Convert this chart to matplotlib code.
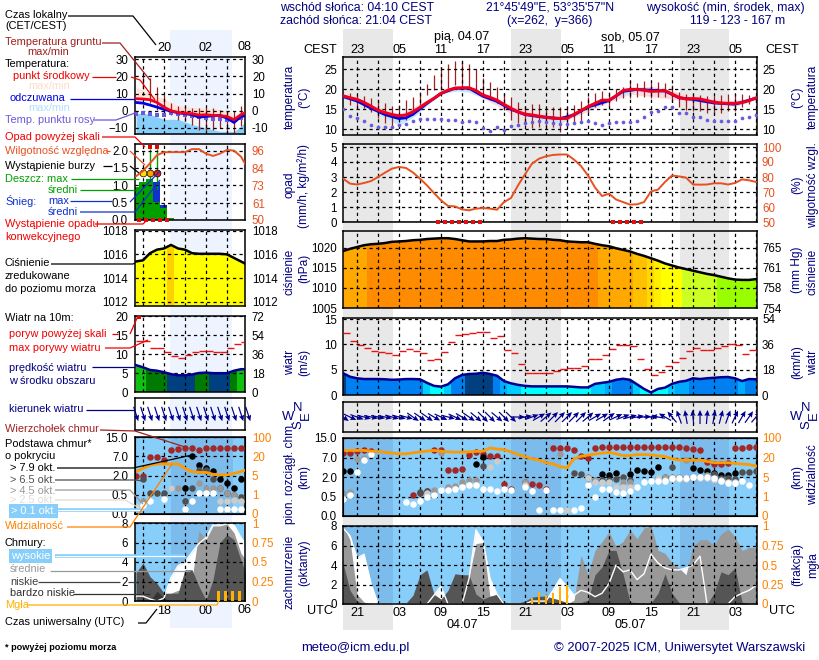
import numpy as np
import matplotlib
matplotlib.use("Agg")
import matplotlib.pyplot as plt
from matplotlib.ticker import FixedLocator, NullLocator

plt.rcParams['font.family'] = ['Liberation Sans', 'DejaVu Sans']

# ---- main panels, hours since 21:00 local on 03.07 ----
hours = list(range(60))
temp = [18.4, 17.9, 17.5, 16.75, 15.8, 14.8, 14.2, 13.7, 13.4, 13.6, 14.4, 15.5, 16.7, 17.75, 19, 19.8, 20.3, 20.4, 20.4, 19.7,
        18.6, 18, 17.3, 16.25, 15.25, 14.4, 13.8, 13.6, 13.3, 13, 12.8, 12.75, 12.75, 13.75, 14.7, 15.7, 16.5, 17.3, 17.3, 18.4,
        19.7, 20, 20, 19.8, 19.5, 19.6, 19.7, 18.8, 18, 17.6, 17.7, 17.6, 17.2, 16.8, 16.6, 16.5, 16.5, 16.7, 17.2, 17.9]
dew = [15, 13.4, 12.75, 12.2, 11.1, 10.7, 10.5, 10.7, 11.1, 11.25, 12, 12.7, 12.7, 12.6, 12.6, 12.3, 12.4, 11.9, 12.1, 11.75,
       10.4, 9.7, 10.7, 9.8, 10.8, 11.1, 11.7, 11.9, 12, 11.75, 11.5, 11.4, 11.4, 11.5, 11.9, 12.2, 11.5, 11.1, 11.5, 11.75,
       11.9, 11.9, 12, 13.2, 14.4, 14.6, 15.5, 15.5, 14.2, 14, 13, 13, 12.3, 12.2, 12.1, 12.1, 12.2, 12.75, 13, 13.6]
ground_hours = list(range(1, 60))
ground_max = [19.2, 18.6, 18.3, 17.8, 17.3, 16.5, 15.8, 16, 17.3, 18, 19.4, 21.3, 23.6, 25.7, 26.3, 27, 27, 26.3, 25, 22.8,
              21.9, 20.5, 19, 18, 16.9, 15.8, 16.3, 16.3, 15.7, 15.7, 15.7, 15.7, 16.2, 17, 18, 19, 19.6, 19.4, 20, 20.6,
              22, 21.7, 22, 21.7, 21.9, 21.6, 21, 19.3, 18.9, 18.9, 18.5, 18.3, 18.3, 18.5, 18.9, 18.9, 18.9, 18.5, 18.1]
ground_min = [16.1, 15.7, 15.3, 14.4, 12.75, 11.5, 10.3, 12, 12.3, 13.6, 16, 18.6, 19.8, 19.8, 20.3, 21, 20.5, 20.3, 19.4, 18.2,
              17.3, 16.5, 14.8, 12.3, 11.5, 11.1, 10.3, 10.7, 10.7, 10.6, 9.4, 11, 11.6, 12.2, 14, 15.5, 16, 15.8, 17.2, 17.9,
              17.9, 18.2, 18, 17.9, 18.2, 18.2, 17.1, 15.5, 14.8, 14.5, 14.5, 14.2, 13.9, 14.2, 14.5, 14.5, 15.6, 16.4, 16.9]
feels_hours = [0, 2, 4, 6, 8, 9, 10, 12, 14, 16, 18, 20, 22, 24, 26, 28, 31, 33, 35, 38, 40, 42, 46, 48, 50, 53, 56, 59]
feels = [18.2, 17.1, 15.3, 13.7, 12.7, 12.9, 13.8, 16.5, 19, 20.3, 20.3, 18.3, 17, 15, 13.7, 13.2, 12.7, 13.6, 15.6, 17.2, 19.5, 20, 19.6, 17.9, 17.5, 16.6, 16.3, 17.8]
band_hours = [0, 8, 14, 17, 20, 24, 28, 31, 34, 38, 41, 44, 47, 50, 56, 59]
temp_top = [18.7, 13.7, 19.2, 20.8, 19, 16, 14.2, 13.2, 15, 17.6, 20.4, 20.8, 19.6, 18.2, 17.2, 18.2]
temp_low = [18, 13, 18.8, 20, 17.8, 14, 12.7, 11.5, 13.8, 16.8, 18.8, 18.2, 17.6, 16.6, 15.8, 17.5]
feels_low_hours = [0, 3, 5, 8, 10, 12, 14, 17, 20, 24, 28, 31, 35, 38, 41, 46, 50, 56, 59]
feels_low = [17.8, 16, 14, 11, 13, 16, 18.8, 20, 18, 14.8, 12.6, 11.5, 15, 17, 19.5, 19, 17, 15.8, 17.5]

humidity = [78.9, 75.6, 75, 76, 77.3, 80, 82.9, 85.6, 86.7, 86, 83, 78.9, 74.4, 69.3, 64.4, 60.7, 60.4, 58.4, 57.8, 58.9,
            59.3, 58.9, 58.2, 63.3, 66, 74.4, 81.8, 88.9, 92.2, 93.8, 94.7, 95, 95, 91.6, 87.3, 81, 73, 67.3, 68.9, 65,
            63.3, 61.6, 61.8, 63.3, 70.4, 71.6, 76.7, 81, 80.4, 79.6, 75, 74.9, 75, 75.8, 75.8, 75, 76, 78.4, 77.8, 76.7]
convective_hours = [13.5, 14.5, 15.5, 16.5, 17.5, 18.5, 19.5, 38.5, 39.5, 40.5, 41.5, 42.5]

pressure = [1019.2, 1019.75, 1020.2, 1020.65, 1020.9, 1021, 1021.2, 1021.5, 1021.6, 1021.7, 1021.9, 1022, 1022.2, 1022.3, 1022.4, 1022.4, 1022.2, 1021.9, 1021.6, 1021.6,
            1021.6, 1021.7, 1021.7, 1022, 1022.1, 1022.3, 1022.4, 1022.3, 1022.2, 1022.2, 1022, 1021.9, 1021.6, 1021.5, 1021.4, 1021.4, 1021, 1020.65, 1020.4, 1019.9,
            1019.5, 1019.1, 1018.5, 1018, 1017.4, 1016.8, 1016.1, 1015.6, 1015.1, 1014.7, 1014.3, 1013.9, 1013.5, 1013.2, 1012.8, 1012.4, 1012.1, 1012, 1012, 1012.2]
pressure_levels = [1013, 1015, 1016.5, 1017, 1018, 1019, 1020.8]
pressure_palette = ['#99FF00', '#CCFF22', '#FFFF00', '#FFEE00', '#FFD800', '#FFC000', '#FFA800', '#FF8C00']
mmhg_labels = ['754', '758', '761', '765']

wind = [4.3, 3.6, 3.3, 3.15, 3.15, 3.15, 3.1, 3, 3.05, 3.15, 3.15, 3.1, 2.4, 1.8, 1.65, 2.1, 3.3, 3.95, 4.15, 4.2,
        4.4, 4.15, 3.8, 2.75, 2.3, 2, 1.8, 1.7, 1.7, 1.7, 1.7, 1.7, 1.7, 1.6, 1.5, 1.5, 2.2, 2.4, 2.6, 3,
        3.2, 3, 2.1, 1.2, 0.5, 1.2, 1.45, 2.2, 2.6, 2.8, 3.3, 3.15, 3.3, 3.4, 3.5, 3.55, 3.3, 2.75, 3.15, 3.1]
wind_levels = [2, 2.6, 3, 4]
wind_palette = ['#00FFFF', '#00CCFF', '#00AAFF', '#0080F0', '#004080']
gust_hours = list(range(59))
gust = [12.2, 10.6, 9.9, 9.2, 8.75, 8.4, 8.3, 7.8, 8.6, 9, 8.75, 8.2, 6.85, 7.2, 8.4, 10.4, 11.8, 12, 12.2, 12.4,
        12.4, 11.3, 11.6, 8.8, 8.3, 6.05, 4.3, 4.3, 4.3, 4.3, 4.8, 5.1, 5.3, 5.3, 5.7, 7.2, 7.2, 7.8, 9, 9.8,
        9.8, 9.6, 7.2, 5.1, 3.9, 4.5, 5.7, 6.6, 7.4, 8.6, 9.2, 8.8, 8.8, 9.2, 9.6, 10, 9.8, 8, 8.8]
wind_heading = [-35, -25, -20, -15, -12, -12, -12, -15, -15, -15, -35, -35, -35, -30, -25, -15, -25, -30, -35, -40,
                -45, -45, -40, -45, -45, 0, 10, 20, 30, 40, 45, 45, 45, 45, 45, 40, 30, 30, 35, 25,
                20, 15, 10, 5, 0, 170, 150, 130, 110, 100, 95, 90, 85, 80, 75, 70, 65, 60, 55, 50]

# cloud base in km, one list of hours and heights per layer
top_h = [0, 1, 2, 3, 4, 10, 11, 12, 13, 14, 15, 16, 17, 18, 19, 20, 21, 22, 23, 24, 26, 27, 28, 29, 30, 31, 32, 33, 34, 35,
         36, 37, 38, 39, 40, 41, 42, 43, 44, 45, 46, 47, 48, 49, 50, 51, 52, 53, 54, 55, 56, 57, 58, 59]
top_km = [8.8, 8.8, 9.6, 9.9, 9.5, 0.63, 0.75, 0.9, 10.2, 10.2, 3.7, 3.7, 4, 8.1, 9.3, 8.5, 7.6, 7.7, 1.5, 1.1, 1.6, 1.45, 1.35, 1.1, 10.7, 10.7, 10.7, 9.9, 7.6, 6.9,
          10.7, 11.2, 11.2, 11.2, 11.2, 11.2, 11.2, 11.2, 11.2, 11.2, 11.2, 11.2, 11.2, 10.9, 10.6, 10.2, 5.8, 5.3, 5.3, 5.6, 10.8, 10.8, 11.2, 11.2]
over79_h = [0, 1, 19, 20, 37, 38, 39, 41, 42, 43, 44, 45, 50, 51, 52, 53, 54, 55, 56]
over79_km = [3.6, 3.6, 5.3, 7.4, 2.8, 2.4, 3, 2.7, 3.9, 3.6, 3.3, 4.5, 4.3, 3.9, 3.6, 3, 2.6, 2.6, 3.1]
over65_h = [11, 12, 20, 33, 34, 35, 36, 37, 38, 39, 40, 41, 46, 47, 53, 54, 55, 56, 57, 58, 59]
over65_km = [0.85, 0.9, 4.9, 3.1, 2.8, 1.95, 1.8, 1.8, 1.75, 1.85, 2.1, 1.75, 2, 4.5, 2.8, 1.95, 1.95, 1.85, 3.3, 3.3, 3.6]
over45_h = [0, 1, 2, 3, 4, 13, 14, 15, 16, 17, 18, 19, 26, 31, 35, 36, 40, 41, 46, 47, 48, 49, 50, 52]
over45_km = [0.8, 0.85, 6.5, 7, 8.6, 1, 8.8, 1.25, 1.3, 1.6, 1.8, 1.8, 1.6, 8.5, 2.1, 1.8, 1.6, 1.65, 2, 2, 2.1, 6.4, 2.1, 2.5]
over25_h = [12, 16, 17, 18, 19, 21, 22, 26, 32, 35, 36, 37, 38, 39, 40, 41, 45, 46, 47, 48, 49, 50, 51, 52, 53, 54, 55, 56]
over25_km = [0.75, 1.1, 1.25, 1.35, 1.4, 4.5, 6.2, 1.4, 0.15, 1.9, 1.6, 1.6, 1.6, 1.25, 1.25, 1.25, 1.9, 1.8, 1.85, 1.85, 1.85, 2, 1.9, 1.95, 1.8, 1.8, 1.6, 1.6]
over01_h = [0, 1, 2, 3, 4, 9, 10, 11, 12, 13, 14, 15, 16, 17, 18, 19, 20, 21, 22, 23, 24, 26, 27, 28, 29, 30, 31, 33, 34, 35,
            36, 37, 38, 39, 40, 41, 42, 43, 44, 45, 46, 47, 48, 49, 50, 51, 52, 53, 54, 55, 56, 57, 58]
over01_km = [0.44, 0.6, 3.4, 6.3, 8.3, 0.37, 0.32, 0.39, 0.49, 0.65, 1, 1, 1.1, 1.2, 1.35, 1.35, 1.1, 1.05, 0.95, 1.05, 1, 1.2, 0.95, 0.15, 1, 0.15, 0.15, 0.16, 0.2, 1.4,
             0.5, 1.1, 1.05, 0.85, 0.8, 0.9, 1.2, 1.6, 1.7, 1.7, 1.7, 1.9, 1.95, 1.9, 2.05, 2.05, 2, 1.9, 1.7, 1.55, 1.55, 1.7, 1.4]
visibility = [49, 49, 49, 49, 46, 45, 41, 38, 35, 35, 39, 43, 46, 49, 46, 43, 42, 42, 43, 45,
              46, 59, 55, 52, 43, 32, 24, 19, 18, 16, 15, 13, 12, 19, 25, 30, 34, 38, 41, 35,
              28, 28, 32, 32, 31, 27, 24, 19, 18, 18, 18, 18, 17, 16, 16, 16, 15.5, 15, 14.6, 13.5]

cloud_high = [7.8, 7, 4.7, 5.1, 2.1, 0, 0, 0, 0, 0, 0, 0, 0, 0.9, 1.8, 0, 0, 0, 2.6, 7.6,
              6.4, 2.6, 1, 0, 0, 0, 0, 0.3, 0.3, 0.3, 1.4, 2.6, 1.8, 0.9, 1.4, 1.2, 0.75, 1.1, 2.1, 4,
              3.3, 3.5, 2.5, 3.1, 5.1, 4.2, 3.7, 3.5, 3.5, 3.7, 4, 4.9, 0, 0, 0, 0, 0.75, 1.1, 1.4, 1.9]
cloud_mid = [8, 6.6, 1, 0.2, 0, 0, 0, 0, 0, 0, 0, 0, 0, 0, 0, 0, 0, 0.3, 2.8, 6.2,
             6.3, 0.7, 0.8, 0, 0, 0, 0, 0, 0, 0, 0, 0, 0, 0.4, 5, 3, 5.5, 6.4, 7.4, 5.9,
             6.4, 7.6, 6.7, 7.8, 8, 5.5, 5.2, 4.2, 3.7, 3, 5.9, 6.6, 6.6, 6, 7.2, 7.7, 6.9, 5.5, 5.8, 5.8]
cloud_low = [4.2, 1.4, 0.3, 0, 0, 0, 0, 0, 0, 0.1, 0.9, 3, 3.5, 1, 0.5, 1.4, 3.1, 3, 3, 1,
             0.5, 0.8, 1, 0.2, 0.1, 0.1, 0.3, 0.7, 0.8, 0.8, 0.6, 0.4, 0.15, 0.1, 0.15, 0.4, 3, 3.8, 5.5, 5.5,
             3.1, 0.2, 0.15, 0.1, 0.1, 1.1, 3.1, 1.1, 0.15, 0.1, 0.1, 0, 0, 1.1, 3.3, 3, 3.7, 0.2, 0, 0]
fog_hours = [27, 28, 29, 30, 31, 32]
fog = [0.08, 0.15, 0.11, 0.14, 0.22, 0.24]

# ---- left legend panels, local hour (24 = midnight) ----
leg_hours = list(range(16, 33))
leg_temp = [7, 6.8, 6.4, 4.8, 2.1, 0, -1, -1.4, -1.7, -2.5, -2.3, -2.7, -2.9, -3.3, -5.2, -2.3, -0.4]
leg_feels = [4.8, 4.4, 3.3, 2.1, 0.8, -0.2, -1.2, -1.7, -2.3, -3.7, -3.3, -2.9, -2.7, -4.3, -6.8, -3.3, -2.7]
leg_temp_top = [13.7, 12, 10, 8.5, 7, 5, 3, 2.5, 2, 1.8, 1.5, 1.2, 1, 0, -3, 0, 1]
leg_feels_top = [-1.4, -1.6, -2, -3.5, -5, -5, -5, -6.5, -8, -9, -10, -11, -12, -12, -12, -9, -5]
leg_ground_h = list(range(17, 32))
leg_ground_max = [22.2, 19, 13.7, 9.3, 4.5, 2.5, 2.5, 1.5, 1.5, 1.5, 1.5, 0.6, -0.4, -0.4, 2.9]
leg_ground_min = [12.6, 4.5, 0.6, -2.3, -2.3, -5.2, -6.2, -8.1, -11, -12, -11, -10, -13, -13, -9]
leg_dew = [-1.9, -1.4, -1.7, -2.3, -2.7, -1.4, -1.7, -2.3, -3.3, -3.7, -4.3, -4.6, -4.8, -5.6, -6.2, -4.3, -3]

leg_rain_h = [16, 17, 18, 19, 20, 21]
leg_rain = [0.96, 1.1, 1.18, 0.53, 0.34, 0.07]
leg_snow = [0.96, 1.1, 1.18, 1.09, 0.43, 0.07]
leg_rain_max_h = [17, 18, 19]
leg_rain_max = [1.0, 2.05, 2.05]
leg_storm_h = [17, 18, 19]
leg_storm = [1.35, 1.35, 1.35]
leg_storm_col = ['#FFE000', '#FFA000', '#F02000']
leg_over_h = [18, 19]
leg_over = [2.1, 2.1]
leg_conv_h = [16.5, 17.5, 18.5, 19.5, 20.5]
leg_humidity = [79, 82.5, 87.6, 93, 95, 95, 95, 95, 97, 97, 94, 92.5, 94, 96.5, 96, 92, 84]

leg_pressure = [1015.4, 1015.5, 1016.1, 1016.4, 1016.5, 1016.8, 1016.5, 1016.4, 1016.1, 1016.05, 1016.05, 1016.05, 1016.05, 1016, 1015.7, 1015.4, 1015.1]
leg_wind = [7.07, 6.5, 5.8, 5.6, 5.2, 4.7, 4.4, 4.4, 4.6, 5, 5.1, 4.95, 4.95, 4.95, 5.6, 6, 6]
leg_wind_levels = [5, 6]
leg_wind_palette = ['#004080', '#007A00', '#10C010']
leg_gust = [13.5, 13.5, 11.7, 11.7, 10.65, 9.6, 8.9, 9.8, 10.5, 10.9, 10.9, 10.65, 10.65, 11.7, 12.75, 13.1]
leg_heading = [-72] * 17

leg_top_h = [16, 17, 18, 19, 20, 21, 22, 23, 24, 25, 26, 27, 28, 29, 30, 31, 32]
leg_top_km = [2, 2, 6.7, 6.7, 6.1, 9.4, 10.2, 10.6, 10.6, 9.8, 10.6, 10.6, 10.6, 10.6, 10.6, 10.6, 10.6]
leg_79_h = [23, 24, 25, 26, 27, 28, 29, 30, 31]
leg_79_km = [1, 7, 4.6, 3.9, 3.2, 1.75, 1.4, 1, 1.75]
leg_65_h = [17, 18, 19, 20, 23, 24, 25, 26, 27, 28, 29, 30, 31, 32]
leg_65_km = [1.7, 0.6, 0.6, 0.6, 0.35, 1, 3.3, 3.3, 1.75, 1, 0.65, 0.5, 0.45, 1.65]
leg_45_h = [17, 21, 22, 25, 26, 27, 28, 29, 30]
leg_45_km = [0.35, 1, 1, 1.4, 1, 1, 1, 0.65, 0.5]
leg_25_h = [16, 17, 21, 28, 29, 30, 31, 32]
leg_25_km = [0.2, 0.2, 1, 0.35, 0.35, 0.37, 0.35, 0.37]
leg_01_h = [17, 18, 20, 23, 24, 25, 26, 27, 28, 29, 30, 31]
leg_01_km = [0.23, 0.35, 0.38, 0.12, 0.35, 0.65, 0.65, 0.65, 0.12, 0.12, 0.12, 0.12]
leg_visibility = [8, 10.6, 13, 14, 14, 14, 14, 10.6, 8, 7.4, 7.4, 6, 5.5, 5.5, 6.6, 8, 10]

leg_high = [0.5, 0.5, 0.2, 0, 0.3, 2.4, 3.6, 4, 5, 5.9, 6.5, 7.8, 7.8, 8, 7.8, 6.5, 5.5]
leg_mid = [0, 0, 0, 0, 0, 0.8, 1.1, 0.8, 2.2, 7.2, 6.3, 7.7, 7.7, 7.9, 7, 4.9, 3.9]
leg_low = [2.9, 3.9, 2.5, 1.8, 0.8, 0.8, 0.8, 3.2, 3.2, 1.5, 0.1, 2.2, 6, 6.8, 6.3, 4.2, 2.2]
leg_vlow = [0, 0, 0, 1, 0.3, 0, 0, 0, 0, 0, 0, 0, 0, 0, 0, 0, 0]
leg_fog_h = [27.8, 28.8, 29.8, 30.8]
leg_fog = [0.13, 0.13, 0.13, 0.13]

sunset = [24.07, 48.07]
sunrise = [7.17, 31.17, 55.17]

heights = [0, 0.5, 2, 7, 15]
vis_ticks = [0, 1, 5, 20, 100]
local_labels = ['23', '05', '11', '17']
utc_labels = ['21', '03', '09', '15']

NAVY = '#000080'
ORANGE = '#FF8000'
RH_COL = '#E85020'
GROUND = '#A02020'
DEW = '#6A5ADD'
FS = 7.9      # loose labels of the legend column
TICK_FS = 8.3
HEAD_FS = 8.8
W, H = 820, 660
M_X = (343, 757)
L_X = (135, 245)
M_LIM = (0, 59.14)
L_LIM = (15.86, 31.57)
BLUE_BG = '#87CEFA'
BLUE_NIGHT = '#7CBCEC'


def panel(xr, y0, y1, xlim, ylim, bg='none'):
    ax = fig.add_axes([xr[0] / W, 1 - y1 / H, (xr[1] - xr[0]) / W, (y1 - y0) / H], facecolor=bg)
    ax.set_xlim(*xlim)
    ax.set_ylim(*ylim)
    return ax


def finish(ax, yt, main, ylab=None, grid_y=True):
    first = 2 if main else 17
    last = ax.get_xlim()[1]
    ax.set_xticks(np.arange(first, last, 3))
    ax.tick_params(axis='both', length=0, labelsize=TICK_FS, labelbottom=False, pad=4.3 if main else 5)
    ax.set_yticks(yt)
    if ylab is not None:
        ax.set_yticklabels(ylab)
    ax.set_axisbelow(False)
    ax.grid(True, axis='x', color='k', lw=0.9, ls=(0, (2.6, 2.6)))
    if grid_y:
        ax.grid(True, axis='y', color='k', lw=0.9, ls=(0, (2.6, 2.6)))
    for s in ax.spines.values():
        s.set_linewidth(1.1)


def right_axis(ax, yt, labels, color='k', lim=None, main=True):
    tw = ax.twinx()
    tw.set_ylim(*(lim if lim else ax.get_ylim()))
    tw.set_yticks(yt)
    tw.set_yticklabels(labels)
    tw.tick_params(axis='y', length=0, labelsize=TICK_FS, labelcolor=color, pad=3.6 if main else 5)
    for s in tw.spines.values():
        s.set_visible(False)
    return tw


def colored_area(ax, x, y, bottom, palette, levels):
    # one slab per hour, cut to the area under the curve
    area = ax.fill_between(x, y, bottom, facecolor='none', edgecolor='none')
    path, trans = area.get_paths()[0], area.get_transform()
    idx = np.digitize(y, levels)
    for xi, i in zip(x, idx):
        b = ax.bar(xi, ax.get_ylim()[1] - bottom, bottom=bottom, width=1.02, color=palette[i], lw=0, antialiased=False)
        b[0].set_clip_path(path, trans)


def dots(ax, sets, size=22):
    for x, y, c in sets:
        ax.scatter(x, y, s=size, c=c, lw=0, zorder=3)


def cover_fill(ax, x, series):
    for y, c in series:
        ax.fill_between(x, y, 0, color=c, lw=0, zorder=1.5)


def fwd_h(v):
    return np.interp(v, heights, [0, 1, 2, 3, 4])


def inv_h(v):
    return np.interp(v, [0, 1, 2, 3, 4], heights)


def fwd_v(v):
    return np.interp(v, vis_ticks, [0, 1, 2, 3, 4])


def inv_v(v):
    return np.interp(v, [0, 1, 2, 3, 4], vis_ticks)


fig = plt.figure(figsize=(W / 100, H / 100), dpi=100, facecolor='white')

# background bands across all panels
bg_m = fig.add_axes([M_X[0] / W, 1 - 630 / H, (M_X[1] - M_X[0]) / W, 601 / H], zorder=-2)
bg_m.set_xlim(*M_LIM)
bg_m.axis('off')
bg_m.axvspan(0, sunrise[0], color='#E8E8E8', lw=0)
bg_m.axvspan(sunset[0], sunrise[1], color='#E8E8E8', lw=0)
bg_m.axvspan(sunset[1], sunrise[2], color='#E8E8E8', lw=0)
bg_l = fig.add_axes([170 / W, 1 - 628 / H, 62 / W, 598 / H], zorder=-2, facecolor='#EEF4FF')
bg_l.set_xticks([])
bg_l.set_yticks([])
for s in bg_l.spines.values():
    s.set_visible(False)

# ---- main: temperature ----
a = panel(M_X, 57, 135, M_LIM, (8.6, 28.1))
a.fill_between(band_hours, temp_low, temp_top, color='#FFD8E0', lw=0)
a.fill_between(feels_hours, np.interp(feels_hours, feels_low_hours, feels_low), feels, color='#BFE8FF', lw=0)
a.vlines(ground_hours, ground_min, ground_max, color=GROUND, lw=0.9, zorder=2)
a.scatter(hours, dew, s=7, c=DEW, lw=0, zorder=3)
a.plot(feels_hours, feels, color='#0000E0', lw=2, zorder=3)
a.plot(hours, temp, color='#F00020', lw=2.2, zorder=4)
finish(a, [10, 15, 20, 25], True)
a.xaxis.tick_top()
a.tick_params(axis='x', labeltop=True, labelbottom=False, pad=1, labelsize=HEAD_FS + 0.3)
a.set_xticklabels([local_labels[i // 2 % 4] if i % 2 == 0 else '' for i in range(len(a.get_xticks()))])
right_axis(a, [10, 15, 20, 25], ['10', '15', '20', '25'])

# ---- main: precipitation / humidity ----
a = panel(M_X, 144, 222, M_LIM, (0, 5.2))
a.plot([0, 59.14], [0, 0], color='#108010', lw=1)
a.scatter(convective_hours, [0.02] * len(convective_hours), s=5, marker='s', c='#E01010', lw=0, clip_on=False, zorder=5)
finish(a, [0, 1, 2, 3, 4, 5], True)
tw = right_axis(a, [50, 60, 70, 80, 90, 100], ['50', '60', '70', '80', '90', '100'], RH_COL, (50, 102))
tw.plot(hours, humidity, color=RH_COL, lw=1.4)

# ---- main: pressure ----
a = panel(M_X, 231, 308, M_LIM, (1005, 1024.2))
colored_area(a, hours, pressure, 1005, pressure_palette, pressure_levels)
a.plot(hours, pressure, color='k', lw=1.8, zorder=3)
finish(a, [1005, 1010, 1015, 1020], True)
right_axis(a, [1005, 1010, 1015, 1020], mmhg_labels)

# ---- main: wind ----
a = panel(M_X, 318, 395, M_LIM, (0, 15.2))
colored_area(a, hours, wind, 0, wind_palette, wind_levels)
a.plot(hours, wind, color='#000090', lw=1.8, zorder=3)
a.hlines(gust, gust_hours, np.array(gust_hours) + 1, color='#F01010', lw=1, zorder=3)
finish(a, [0, 5, 10, 15], True)
right_axis(a, [0, 18, 36, 54], ['0', '18', '36', '54'], lim=(0, 54.7))

# ---- main: wind direction ----
a = panel(M_X, 402, 432, M_LIM, (-1, 1))
rad = np.radians(wind_heading)
a.quiver(hours, np.zeros(60), np.cos(rad), np.sin(rad), color='#000090', angles='uv', pivot='mid', units='inches',
         scale_units='inches', scale=7.1, width=0.012, headwidth=4.5, headlength=5, headaxislength=4.5, zorder=3)
finish(a, [], True, grid_y=False)

# ---- main: cloud base / visibility ----
a = panel(M_X, 438, 516, M_LIM, (0, 15), BLUE_BG)
a.set_yscale('function', functions=(fwd_h, inv_h))
a.set_ylim(0, 15)
a.axvspan(0, sunrise[0], color=BLUE_NIGHT, lw=0)
a.axvspan(sunset[0], sunrise[1], color=BLUE_NIGHT, lw=0)
a.axvspan(sunset[1], sunrise[2], color=BLUE_NIGHT, lw=0)
dots(a, [(top_h, top_km, '#A02828'), (over79_h, over79_km, 'k'), (over65_h, over65_km, '#505050'),
         (over45_h, over45_km, '#999999'), (over25_h, over25_km, '#CCCCCC'), (over01_h, over01_km, 'white')])
finish(a, heights, True, ylab=['0.0', '0.5', '2.0', '7.0', '15.0'])
a.yaxis.set_minor_locator(NullLocator())
tw = a.twinx()
tw.set_yscale('function', functions=(fwd_v, inv_v))
tw.set_ylim(0, 100)
tw.yaxis.set_major_locator(FixedLocator(vis_ticks))
tw.yaxis.set_minor_locator(NullLocator())
tw.set_yticklabels(['0', '1', '5', '20', '100'])
tw.tick_params(axis='y', length=0, labelsize=TICK_FS, labelcolor=ORANGE, pad=3.6)
tw.plot(hours, visibility, color='#FF9900', lw=2)

# ---- main: cloud cover / fog ----
a = panel(M_X, 526, 604, M_LIM, (0, 8), BLUE_BG)
a.axvspan(0, sunrise[0], color=BLUE_NIGHT, lw=0)
a.axvspan(sunset[0], sunrise[1], color=BLUE_NIGHT, lw=0)
a.axvspan(sunset[1], sunrise[2], color=BLUE_NIGHT, lw=0)
cover_fill(a, hours, [(cloud_high, 'white'), (cloud_mid, '#999999'), (cloud_low, '#555555')])
a.plot(hours, cloud_high, color='white', lw=1, zorder=1.8)
finish(a, [0, 2, 4, 6, 8], True)
a.tick_params(axis='x', labelbottom=True, pad=2, labelsize=HEAD_FS + 0.3)
a.set_xticklabels([utc_labels[i // 2 % 4] if i % 2 == 0 else '' for i in range(len(a.get_xticks()))])
tw = right_axis(a, [0, 0.25, 0.5, 0.75, 1], ['0', '0.25', '0.5', '0.75', '1'], ORANGE, (0, 1))
tw.bar(fog_hours, fog, width=0.32, color='#FFB000', lw=0)

# ---- legend column ----
a = panel(L_X, 57, 134, L_LIM, (-13.5, 31.2))
a.fill_between(leg_hours, leg_temp, leg_temp_top, color='#FFE4D8', lw=0)
a.fill_between(leg_hours, -13.5, leg_feels_top, color=BLUE_BG, lw=0)
a.vlines(leg_ground_h, leg_ground_min, leg_ground_max, color=GROUND, lw=0.9, zorder=2)
a.scatter(leg_hours, leg_dew, s=7, c=DEW, marker='s', lw=0, zorder=3)
a.plot(leg_hours, leg_feels, color='#0000E0', lw=2, zorder=3)
a.plot(leg_hours, leg_temp, color='#F00020', lw=2, zorder=4)
finish(a, [-10, 0, 10, 20, 30], False)
a.xaxis.tick_top()
a.tick_params(axis='x', labeltop=True, labelbottom=False, pad=2, labelsize=HEAD_FS + 0.3)
a.set_xticks([17, 20, 23, 26, 29])
a.set_xticklabels(['', '20', '', '02', ''])
a.set_xlim(*L_LIM)
right_axis(a, [-10, 0, 10, 20, 30], ['-10', '0', '10', '20', '30'], main=False)

a = panel(L_X, 144, 220, L_LIM, (0, 2.19))
a.bar(leg_rain_h, leg_snow, width=1, color='#1030D0', lw=0, zorder=1)
a.bar(leg_rain_h, leg_rain, width=1, color='#00A000', lw=0, zorder=1.2)
a.vlines(leg_rain_max_h, 0.9, leg_rain_max, color='#00A000', lw=1, zorder=2)
for x, y, c in zip(leg_storm_h, leg_storm, leg_storm_col):
    a.scatter(x, y, s=24, c=c, edgecolors='k', lw=0.5, zorder=4)
a.scatter(leg_over_h, leg_over, s=9, marker='s', c='#F00000', lw=0, zorder=4)
a.scatter(leg_conv_h, [0.01] * 5, s=5, marker='s', c='#E01010', lw=0, clip_on=False, zorder=5)
finish(a, [0, 0.5, 1, 1.5, 2], False, ylab=['0.0', '0.5', '1.0', '1.5', '2.0'])
a.set_xticks([17, 20, 23, 26, 29])
tw = right_axis(a, [50, 61, 73, 84, 96], ['50', '61', '73', '84', '96'], RH_COL, (50, 100.4), main=False)
tw.plot(leg_hours, leg_humidity, color=RH_COL, lw=1.4)

a = panel(L_X, 230, 306, L_LIM, (1011.64, 1018.06))
colored_area(a, leg_hours, leg_pressure, 1011.64, ['#FFFF00', '#FFD000'], [1016.7])
a.plot(leg_hours, leg_pressure, color='k', lw=1.8, zorder=3)
finish(a, [1012, 1014, 1016, 1018], False)
a.set_xticks([17, 20, 23, 26, 29])
right_axis(a, [1012, 1014, 1016, 1018], ['1012', '1014', '1016', '1018'], main=False)

a = panel(L_X, 316, 392, L_LIM, (0, 20))
colored_area(a, leg_hours, leg_wind, 0, leg_wind_palette, leg_wind_levels)
a.plot(leg_hours, leg_wind, color='#000090', lw=1.8, zorder=3)
a.hlines(leg_gust, leg_hours[:-1], np.array(leg_hours[:-1]) + 1, color='#F01010', lw=1, zorder=3)
a.scatter([16.5], [19.7], s=8, marker='s', c='#F00000', lw=0, zorder=4)
finish(a, [0, 5, 10, 15, 20], False)
a.set_xticks([17, 20, 23, 26, 29])
right_axis(a, [0, 18, 36, 54, 72], ['0', '18', '36', '54', '72'], lim=(0, 72), main=False)

a = panel(L_X, 398, 430, L_LIM, (-1, 1))
rad = np.radians(leg_heading)
a.quiver(leg_hours, np.zeros(17), np.cos(rad), np.sin(rad), color='#000090', angles='uv', pivot='mid', units='inches',
         scale_units='inches', scale=6.6, width=0.012, headwidth=4.5, headlength=5, headaxislength=4.5, zorder=3, clip_on=False)
finish(a, [], False, grid_y=False)
a.set_xticks([17, 20, 23, 26, 29])

a = panel(L_X, 437, 514, L_LIM, (0, 15), BLUE_BG)
a.set_yscale('function', functions=(fwd_h, inv_h))
a.set_ylim(0, 15)
a.axvspan(21.07, 29.9, color=BLUE_NIGHT, lw=0)
dots(a, [(leg_top_h, leg_top_km, '#A02828'), (leg_79_h, leg_79_km, 'k'), (leg_65_h, leg_65_km, '#505050'),
         (leg_45_h, leg_45_km, '#999999'), (leg_25_h, leg_25_km, '#CCCCCC'), (leg_01_h, leg_01_km, 'white')])
finish(a, heights, False, ylab=['0.0', '0.5', '2.0', '7.0', '15.0'])
a.set_xticks([17, 20, 23, 26, 29])
a.yaxis.set_minor_locator(NullLocator())
tw = a.twinx()
tw.set_yscale('function', functions=(fwd_v, inv_v))
tw.set_ylim(0, 100)
tw.yaxis.set_major_locator(FixedLocator(vis_ticks))
tw.yaxis.set_minor_locator(NullLocator())
tw.set_yticklabels(['0', '1', '5', '20', '100'])
tw.tick_params(axis='y', length=0, labelsize=TICK_FS, labelcolor=ORANGE, pad=5)
tw.plot(leg_hours, leg_visibility, color='#FF9900', lw=2)

a = panel(L_X, 523, 601, L_LIM, (0, 8), BLUE_BG)
a.axvspan(21.07, 29.9, color=BLUE_NIGHT, lw=0)
cover_fill(a, leg_hours, [(leg_high, 'white'), (leg_mid, '#999999'), (leg_low, '#555555'), (leg_vlow, '#333333')])
a.plot(leg_hours, leg_high, color='white', lw=1, zorder=1.8)
finish(a, [0, 2, 4, 6, 8], False)
a.set_xticks([17, 20, 23, 26, 29])
a.set_xticklabels(['', '18', '', '00', ''])
a.set_xlim(*L_LIM)
a.tick_params(axis='x', labelbottom=True, pad=3, labelsize=HEAD_FS + 0.3)
tw = right_axis(a, [0, 0.25, 0.5, 0.75, 1], ['0', '0.25', '0.5', '0.75', '1'], ORANGE, (0, 1), main=False)
tw.bar(leg_fog_h, leg_fog, width=0.38, color='#FFB000', lw=0)

# ---- overlay in pixel coordinates: all the loose text and leader lines ----
ov = fig.add_axes([0, 0, 1, 1], zorder=10, facecolor='none')
ov.set_xlim(0, W)
ov.set_ylim(H, 0)
ov.axis('off')


def txt(x, y, s, c='k', **kw):
    kw.setdefault('fontsize', FS)
    kw.setdefault('va', 'center')
    ov.text(x, y, s, color=c, **kw)


def vert(x, y, s, c=NAVY):
    ov.text(x, y, s, color=c, fontsize=8.6, rotation=90, ha='center', va='center')


def lead(c, *pts, lw=0.9):
    xs, ys = zip(*pts)
    ov.plot(xs, ys, color=c, lw=lw, solid_capstyle='butt')


RED = '#F00000'
GREEN = '#00A000'
BLUE = '#1030D0'
for x, y, s, c in [
    (5, 15, 'Czas lokalny', 'k'), (5, 26, '(CET/CEST)', 'k'), (5, 42, 'Temperatura gruntu', GROUND), (27, 52, 'max/min', GROUND),
    (5, 64, 'Temperatura:', 'k'), (13, 76, 'punkt środkowy', RED), (28, 86, 'max/min', '#FFDCC8'), (10, 98, 'odczuwana', '#0000E0'),
    (28, 108, 'max/min', '#B0E0FF'), (5, 120, 'Temp. punktu rosy', DEW), (5, 137, 'Opad powyżej skali', RED),
    (5, 151, 'Wilgotność względna', RH_COL), (5, 166, 'Wystąpienie burzy', 'k'), (5, 179, 'Deszcz: max', GREEN), (48, 190, 'średni', GREEN),
    (5, 201, 'Śnieg:', BLUE), (48, 201, 'max', BLUE), (48, 212, 'średni', BLUE), (5, 224, 'Wystąpienie opadu', RED), (5, 237, 'konwekcyjnego', RED),
    (5, 263, 'Ciśnienie', 'k'), (5, 276, 'zredukowane', 'k'), (5, 289, 'do poziomu morza', 'k'), (5, 318, 'Wiatr na 10m:', 'k'),
    (9, 334, 'poryw powyżej skali', RED), (9, 348, 'max porywy wiatru', RED), (9, 368, 'prędkość wiatru', NAVY), (9, 381, 'w środku obszaru', NAVY),
    (9, 409, 'kierunek wiatru', NAVY), (5, 429, 'Wierzchołek chmur', GROUND), (5, 444, 'Podstawa chmur*', 'k'), (5, 456, 'o pokryciu', 'k'),
    (10, 468, '> 7.9 okt.', 'k'), (10, 480, '> 6.5 okt.', '#505050'), (10, 491, '> 4.5 okt.', '#999999'), (10, 500, '> 2.5 okt.', '#DDDDDD'),
    (5, 526, 'Widzialność', ORANGE), (5, 543, 'Chmury:', 'k'), (10, 569, 'średnie', '#999999'), (10, 582, 'niskie', '#404040'),
    (10, 593, 'bardzo niskie', '#303030'), (5, 605, 'Mgła', '#FFB000'), (5, 622, 'Czas uniwersalny (UTC)', 'k'),
]:
    txt(x, y, s, c)
txt(11, 511, '> 0.1 okt.', 'white', bbox=dict(facecolor=BLUE_BG, edgecolor='none', pad=1.5))
txt(11, 556, 'wysokie', 'white', bbox=dict(facecolor=BLUE_BG, edgecolor='none', pad=1.5))
txt(5, 648, '* powyżej poziomu morza', 'k', fontsize=6.6, fontweight='bold')
txt(245, 47, '08', 'k', ha='center', fontsize=HEAD_FS + 0.3)
txt(245, 610, '06', 'k', ha='center', fontsize=HEAD_FS + 0.3)

lead('k', (68, 16), (133, 16), (156, 45))
lead(GROUND, (102, 43), (120, 43), (150, 80))
lead(RED, (92, 77), (116, 77))
lead(RED, (131, 77), (140, 80), (155, 100))
lead('#0000E0', (70, 99), (135, 99))
lead(DEW, (94, 120), (116, 120), (135, 113))
lead(RED, (102, 137), (135, 137), (145, 147))
lead(RH_COL, (106, 151), (110, 151))
lead(RH_COL, (130, 151), (145, 165))
lead('k', (103, 166), (112, 166))
lead('k', (130, 166), (139, 173))
lead(GREEN, (71, 179), (139, 179))
lead(GREEN, (80, 190), (135, 190))
lead(BLUE, (70, 201), (112, 201))
lead(BLUE, (130, 202), (160, 171))
lead(BLUE, (80, 212), (135, 212), (160, 180))
lead(RED, (95, 224), (143, 224), (147, 220))
lead('k', (51, 264), (133, 264), (135, 263))
lead(RED, (112, 334), (118, 334))
lead(RED, (130, 334), (138, 316))
lead(RED, (105, 348), (130, 348), (148, 340))
lead(NAVY, (92, 367), (135, 367))
lead(NAVY, (86, 410), (135, 410))
lead(GROUND, (100, 430), (135, 431), (185, 447))
lead('k', (57, 468), (133, 468), (192, 455))
lead('#505050', (55, 480), (135, 480), (143, 481))
lead('#999999', (55, 490), (130, 490), (143, 504))
lead('#DDDDDD', (55, 500), (125, 500), (143, 510))
lead(BLUE_BG, (55, 510), (140, 510), lw=2.6)
lead('white', (55, 510), (140, 510), lw=0.8)
lead(ORANGE, (67, 527), (130, 527), (172, 464))
lead(BLUE_BG, (55, 556), (185, 556), lw=2.6)
lead('white', (55, 556), (185, 556), lw=0.8)
lead('#999999', (50, 571), (190, 571))
lead('#404040', (38, 582), (120, 582))
lead('#404040', (128, 582), (137, 582))
lead('#303030', (73, 594), (150, 594))
lead('#FFB000', (27, 605), (217, 605), (219, 600))
lead('k', (138, 623), (146, 623), (157, 609))

txt(280, 8, 'wschód słońca: 04:10 CEST', NAVY, fontsize=HEAD_FS)
txt(280, 21, 'zachód słońca: 21:04 CEST', NAVY, fontsize=HEAD_FS)
txt(550, 8, '21°45\'49"E, 53°35\'57"N', NAVY, ha='center', fontsize=HEAD_FS)
txt(550, 21, '(x=262,  y=366)', NAVY, ha='center', fontsize=HEAD_FS)
txt(725, 8, 'wysokość (min, środek, max)', NAVY, ha='center', fontsize=HEAD_FS)
txt(738, 21, '119 - 123 - 167 m', NAVY, ha='center', fontsize=HEAD_FS)
txt(462, 37, 'pią, 04.07', 'k', ha='center', fontsize=9.1)
txt(630, 37, 'sob, 05.07', 'k', ha='center', fontsize=9.1)
txt(303, 50, 'CEST', 'k', fontsize=9.1)
txt(765, 50, 'CEST', 'k', fontsize=9.1)
txt(307, 611, 'UTC', 'k', fontsize=9.1)
txt(769, 611, 'UTC', 'k', fontsize=9.1)
txt(462, 625, '04.07', 'k', ha='center', fontsize=9.1)
txt(630, 625, '05.07', 'k', ha='center', fontsize=9.1)
txt(355, 648, 'meteo@icm.edu.pl', NAVY, ha='center', fontsize=9.4)
txt(680, 648, '© 2007-2025 ICM, Uniwersytet Warszawski', NAVY, ha='center', fontsize=9.4)

for x, y, s in [(290, 97, 'temperatura'), (304, 97, '(°C)'), (290, 185, 'opad'), (304, 186, '(mm/h, kg/m²/h)'),
                (290, 272, 'ciśnienie'), (304, 268, '(hPa)'), (290, 362, 'wiatr'), (304, 362, '(m/s)'),
                (290, 473, 'pion. rozciągł. chm.'), (304, 477, '(km)'), (290, 572, 'zachmurzenie'), (304, 563, '(oktanty)'),
                (813, 97, 'temperatura'), (797, 97, '(°C)'), (813, 185, 'wilgotność wzgl.'), (797, 185, '(%)'),
                (813, 272, 'ciśnienie'), (797, 270, '(mm Hg)'), (813, 362, 'wiatr'), (797, 362, '(km/h)'),
                (813, 475, 'widzialność'), (797, 477, '(km)'), (813, 565, 'mgła'), (797, 565, '(frakcja)')]:
    vert(x, y, s)

for cx in [298, 806]:
    txt(cx - 10, 417, 'W', NAVY, ha='center', fontsize=9.4)
    txt(cx, 408, 'N', NAVY, ha='center', fontsize=9.4)
    txt(cx + 8, 416, 'E', NAVY, ha='center', fontsize=9.4, rotation=90)
    txt(cx, 425, 'S', NAVY, ha='center', fontsize=9.4, rotation=90)

fig.savefig('out.png', dpi=100)
